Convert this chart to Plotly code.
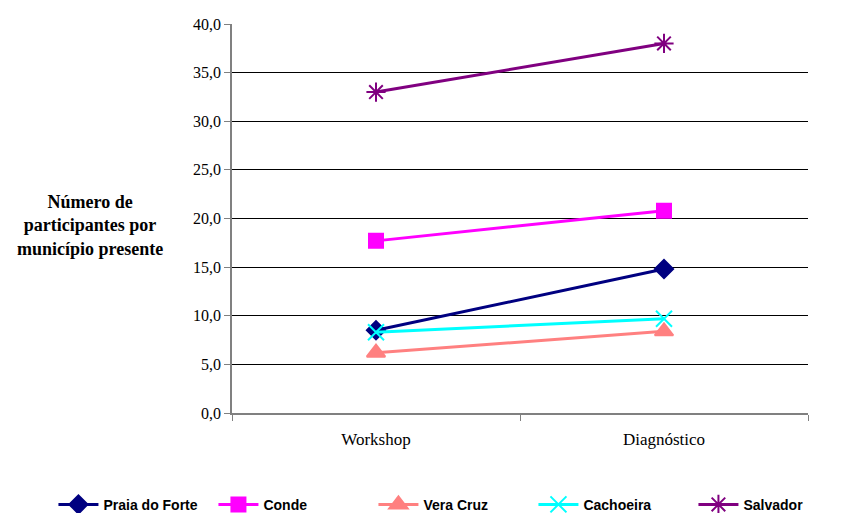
import plotly.graph_objects as go

categories = ["Workshop", "Diagnóstico"]
series_names = ["Praia do Forte", "Conde", "Vera Cruz", "Cachoeira", "Salvador"]
praia = [8.5, 14.8]
conde = [17.7, 20.8]
vera = [6.2, 8.4]
cachoeira = [8.3, 9.7]
salvador = [33.0, 38.0]
y_ticks = [0, 5, 10, 15, 20, 25, 30, 35, 40]

values = [praia, conde, vera, cachoeira, salvador]
colors = ["#000080", "#FF00FF", "#FF8080", "#00FFFF", "#800080"]
symbols = ["diamond", "square", "triangle-up", "x-thin-open", "asterisk-open"]
sizes = [14, 14, 16, 16, 16]

fig = go.Figure()
for name, vals, c, s, sz in zip(series_names, values, colors, symbols, sizes):
    fig.add_trace(go.Scatter(
        x=categories, y=vals, name=name, mode="lines+markers",
        line=dict(color=c, width=3),
        marker=dict(symbol=s, size=sz, color=c, line=dict(color=c, width=2)),
    ))

fig.update_layout(
    width=843, height=513,
    margin=dict(l=224, r=43, t=16, b=108, autoexpand=False),
    paper_bgcolor="white", plot_bgcolor="white",
    separators=",.",
    showlegend=True,
    legend=dict(orientation="h", x=-0.31, xanchor="left", y=-0.236, yanchor="middle",
                entrywidth=105, entrywidthmode="pixels", itemwidth=40,
                font=dict(family="Liberation Sans Narrow, Liberation Sans", size=14,
                          color="black", weight="bold"),
                traceorder="normal"),
    font=dict(family="Liberation Serif", size=16, color="black"),
)
fig.update_xaxes(
    type="category", range=[-0.5, 1.5], tickson="boundaries",
    ticks="outside", ticklen=6, tickcolor="#808080", ticklabelstandoff=10,
    showline=True, linecolor="#808080", linewidth=1.5,
    showgrid=False, tickfont=dict(family="Liberation Serif", size=17),
)
fig.update_yaxes(
    range=[0, 40], tickvals=y_ticks, tickformat=".1f",
    ticks="outside", ticklen=6, tickcolor="#808080",
    showline=True, linecolor="#808080", linewidth=1.5,
    showgrid=True, gridcolor="black", gridwidth=1,
    zeroline=False, tickfont=dict(family="Liberation Serif", size=16),
)
fig.add_annotation(
    text="<b>Número de<br>participantes por<br>município presente</b>",
    xref="paper", yref="paper", x=-0.247, y=0.483, xanchor="center", yanchor="middle",
    showarrow=False, align="center",
    font=dict(family="Liberation Serif", size=18, color="black"),
)
fig.write_html("out.html")
